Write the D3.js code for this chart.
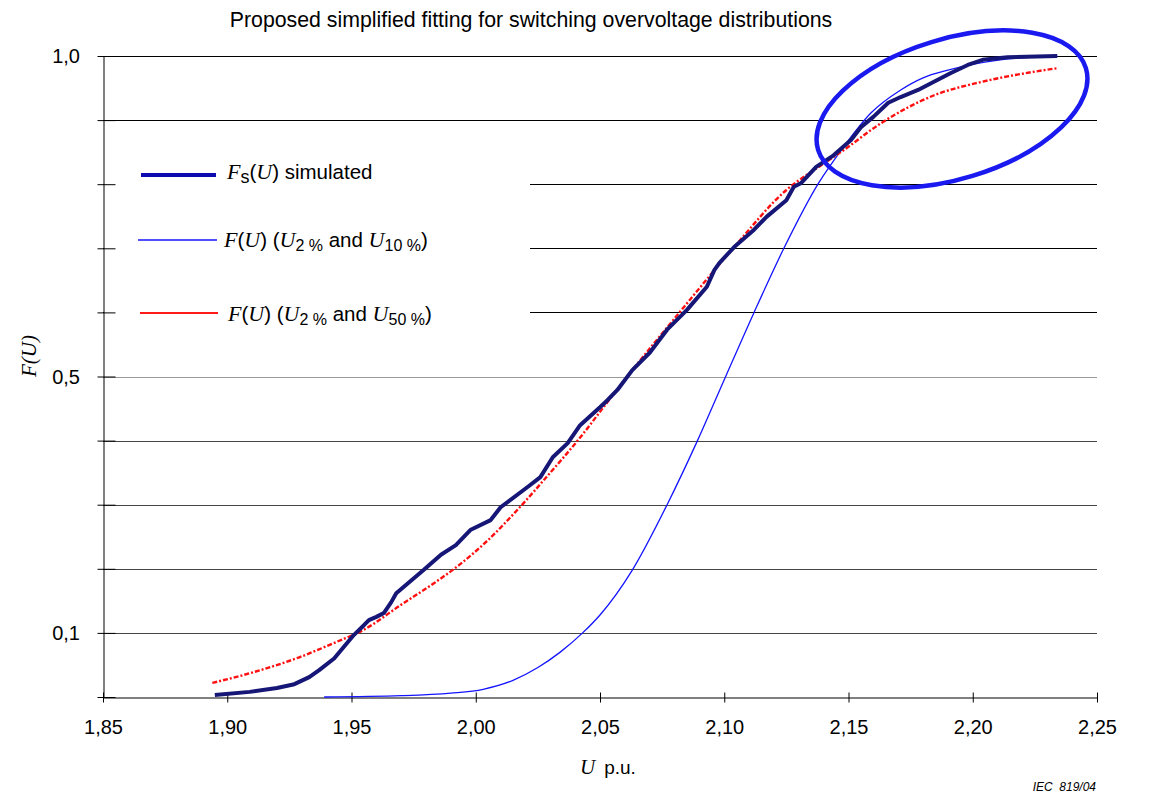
<html>
<head>
  <title>Switching overvoltage distributions</title>
  <script src='https://d3js.org/d3.v7.min.js'></script>
  <style type="text/css">
    body { margin: 0; background: #fff; }
    text { font-family: 'Liberation Sans', Arial, sans-serif; fill: #000; }
    .serif { font-family: 'Liberation Serif', 'Times New Roman', serif; font-style: italic; }
    .grid line { stroke-width: 1px; }
    .sim { fill: none; stroke: #161677; stroke-width: 4; stroke-linejoin: round; }
    .fit10 { fill: none; stroke: #1414ff; stroke-width: 1.3; }
    .fit50 { fill: none; stroke: #ff1010; stroke-width: 2.4; stroke-dasharray: 5,2,2,2; }
  </style>
</head>
<body>
  <script>
var width = 1155,
    height = 794;

// simulated distribution F_s(U)
var simU = [1.895, 1.909, 1.920, 1.927, 1.933, 1.937, 1.943, 1.951, 1.955, 1.957, 1.960, 1.963, 1.966, 1.968,
            1.979, 1.986, 1.992, 1.998, 2.006, 2.010, 2.021, 2.026, 2.031, 2.037, 2.042, 2.050, 2.053, 2.057,
            2.063, 2.070, 2.077, 2.085, 2.093, 2.096, 2.098, 2.104, 2.112, 2.117, 2.125, 2.128, 2.131, 2.137,
            2.144, 2.151, 2.155, 2.160, 2.166, 2.171, 2.178, 2.184, 2.191, 2.198, 2.204, 2.214, 2.234];
var simF = [0.003, 0.008, 0.014, 0.020, 0.031, 0.042, 0.060, 0.097, 0.112, 0.120, 0.125, 0.131, 0.148, 0.162,
            0.198, 0.222, 0.237, 0.261, 0.276, 0.296, 0.328, 0.343, 0.374, 0.396, 0.424, 0.452, 0.463, 0.479,
            0.510, 0.537, 0.573, 0.604, 0.640, 0.666, 0.677, 0.702, 0.729, 0.749, 0.775, 0.796, 0.802, 0.827,
            0.845, 0.869, 0.889, 0.905, 0.927, 0.936, 0.947, 0.959, 0.973, 0.986, 0.994, 0.998, 1.000];

// fit from U2% and U10%
var fit10U = [1.939, 1.970, 1.990, 2.003, 2.015, 2.025, 2.034, 2.043, 2.050, 2.063, 2.077, 2.089, 2.100, 2.112,
              2.124, 2.138, 2.148, 2.159, 2.171, 2.180, 2.190, 2.211, 2.234];
var fit10F = [0.000, 0.002, 0.006, 0.012, 0.026, 0.046, 0.070, 0.100, 0.128, 0.198, 0.300, 0.398, 0.495, 0.600,
              0.700, 0.802, 0.858, 0.911, 0.947, 0.966, 0.978, 0.994, 1.000];

// fit from U2% and U50%
var fit50U = [1.894, 1.909, 1.929, 1.944, 1.955, 1.970, 1.983, 1.993, 2.005, 2.017, 2.030, 2.041, 2.053,
              2.061, 2.082, 2.104, 2.125, 2.138, 2.148, 2.163, 2.184, 2.204, 2.224, 2.234];
var fit50F = [0.022, 0.037, 0.062, 0.086, 0.105, 0.144, 0.177, 0.205, 0.245, 0.293, 0.350, 0.400, 0.460,
              0.500, 0.600, 0.702, 0.791, 0.827, 0.853, 0.895, 0.938, 0.960, 0.975, 0.981];

var xTicks = [1.85, 1.90, 1.95, 2.00, 2.05, 2.10, 2.15, 2.20, 2.25];
var yGridTicks = [0.1, 0.2, 0.3, 0.4, 0.5, 0.6, 0.7, 0.8, 0.9, 1.0];
var yLabelTicks = [0.1, 0.5, 1.0];

var x = d3.scaleLinear().domain([1.85, 2.25]).range([103, 1097]);
var y = d3.scaleLinear().domain([0, 1]).range([697, 56]);
var comma = function(v, n) { return v.toFixed(n).replace('.', ','); };

var svg = d3.select("body").append("svg")
    .attr("width", width)
    .attr("height", height);

// title
svg.append("text")
    .attr("x", 531).attr("y", 27)
    .attr("text-anchor", "middle")
    .style("font-size", "21.3px")
    .text("Proposed simplified fitting for switching overvoltage distributions");

// horizontal grid
var grid = svg.append("g").attr("class", "grid");
grid.selectAll("line")
  .data(yGridTicks)
  .enter()
  .append("line")
    .attr("x1", x(1.85)).attr("x2", x(2.25))
    .attr("y1", d => Math.round(y(d)) + 0.5)
    .attr("y2", d => Math.round(y(d)) + 0.5)
    .attr("stroke", d => d < 0.45 ? "#444" : (d < 0.55 ? "#999" : "#000"));

// legend background hides part of the grid
svg.append("rect")
    .attr("x", 104).attr("y", 150)
    .attr("width", 426).attr("height", 190)
    .attr("fill", "#fff");

// y axis
var yAxis = d3.axisLeft(y)
    .tickValues([0].concat(yGridTicks))
    .tickSizeInner(6)
    .tickSizeOuter(0)
    .tickFormat("");
var yg = svg.append("g")
    .attr("transform", "translate(" + (x(1.85) + 0.5) + ",0)")
    .call(yAxis);
yg.selectAll(".tick line").attr("x2", -6).attr("x1", 12).attr("stroke", "#000");
yg.select(".domain").attr("stroke", "#000");

svg.append("g").selectAll("text")
  .data(yLabelTicks)
  .enter()
  .append("text")
    .attr("x", 80)
    .attr("y", d => y(d))
    .attr("dy", "0.36em")
    .attr("text-anchor", "end")
    .style("font-size", "20px")
    .text(d => comma(d, 1));

// x axis
var xAxis = d3.axisBottom(x)
    .tickValues(xTicks)
    .tickSizeInner(5)
    .tickSizeOuter(0)
    .tickPadding(17)
    .tickFormat(d => comma(d, 2));
var xg = svg.append("g")
    .attr("transform", "translate(0," + (y(0) + 0.5) + ")")
    .call(xAxis);
xg.selectAll(".tick line").attr("y1", -5).attr("y2", 5).attr("stroke", "#000");
xg.select(".domain").attr("stroke", "#000");
xg.selectAll(".tick text")
    .style("font-family", "'Liberation Sans', Arial, sans-serif")
    .style("font-size", "20px")
    .attr("fill", "#000");

// axis titles
svg.append("text")
    .attr("transform", "translate(36,356) rotate(-90)")
    .attr("text-anchor", "middle")
    .attr("class", "serif")
    .style("font-size", "21px")
    .text("F(U)");

var xTitle = svg.append("text")
    .attr("x", 580).attr("y", 774)
    .style("font-size", "19px");
xTitle.append("tspan").attr("class", "serif").style("font-size", "21px").text("U");
xTitle.append("tspan").attr("dx", 9).text("p.u.");

svg.append("text")
    .attr("x", 1096).attr("y", 791)
    .attr("text-anchor", "end")
    .style("font-size", "12px")
    .style("font-style", "italic")
    .attr("xml:space", "preserve")
    .text("IEC  819/04");

// curves
function series(us, fs) {
  return us.map((u, i) => [u, fs[i]]);
}
var line = d3.line()
    .x(d => x(d[0]))
    .y(d => y(d[1]));
var smooth = d3.line()
    .curve(d3.curveMonotoneX)
    .x(d => x(d[0]))
    .y(d => y(d[1]));

svg.append("path").attr("class", "fit10").attr("d", smooth(series(fit10U, fit10F)));
svg.append("path").attr("class", "fit50").attr("d", smooth(series(fit50U, fit50F)));
svg.append("path").attr("class", "sim").attr("d", line(series(simU, simF)));

// highlight ellipse
svg.append("ellipse")
    .attr("cx", 952).attr("cy", 109)
    .attr("rx", 140).attr("ry", 70)
    .attr("transform", "rotate(-17,952,109)")
    .attr("fill", "none")
    .attr("stroke", "#1a1af0")
    .attr("stroke-width", 4.5);

// legend
svg.append("line").attr("x1", 141).attr("x2", 216).attr("y1", 175).attr("y2", 175)
    .attr("stroke", "#0c0cb0").attr("stroke-width", 4);
svg.append("line").attr("x1", 138).attr("x2", 217).attr("y1", 240).attr("y2", 240)
    .attr("stroke", "#1414ff").attr("stroke-width", 1.5);
svg.append("line").attr("x1", 140).attr("x2", 218).attr("y1", 313).attr("y2", 313)
    .attr("stroke", "#ff1a1a").attr("stroke-width", 2);

var t1 = svg.append("text").attr("x", 227).attr("y", 179).style("font-size", "20.5px");
t1.append("tspan").attr("class", "serif").style("font-size", "22px").text("F");
t1.append("tspan").attr("dy", 4).style("font-size", "18px").text("s");
t1.append("tspan").attr("dy", -4).text("(");
t1.append("tspan").attr("class", "serif").style("font-size", "22px").text("U");
t1.append("tspan").text(") simulated");

function fitLabel(tx, ty, sub) {
  var t = svg.append("text").attr("x", tx).attr("y", ty).style("font-size", "20.5px");
  t.append("tspan").attr("class", "serif").style("font-size", "22px").text("F");
  t.append("tspan").text("(");
  t.append("tspan").attr("class", "serif").style("font-size", "22px").text("U");
  t.append("tspan").text(") (");
  t.append("tspan").attr("class", "serif").style("font-size", "22px").text("U");
  t.append("tspan").attr("dy", 4).style("font-size", "16px").text("2 %");
  t.append("tspan").attr("dy", -4).text(" and ");
  t.append("tspan").attr("class", "serif").style("font-size", "22px").text("U");
  t.append("tspan").attr("dy", 4).style("font-size", "16px").text(sub + " %");
  t.append("tspan").attr("dy", -4).text(")");
}
fitLabel(224, 247, "10");
fitLabel(228, 321, "50");
  </script>
</body>
</html>
